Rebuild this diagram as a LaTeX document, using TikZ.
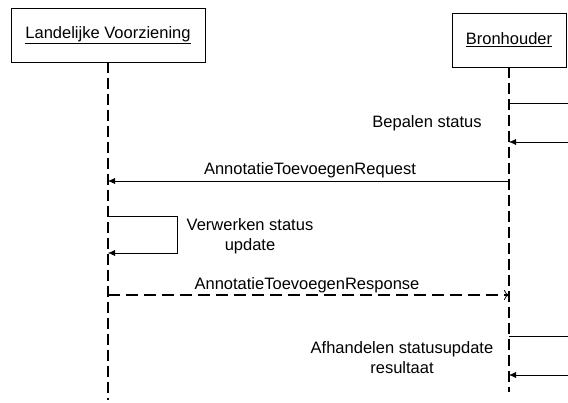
\documentclass[tikz,border=0pt]{standalone}
\usepackage{fontspec}
\setmainfont{Liberation Sans}
\usetikzlibrary{arrows.meta}
\tikzset{
head/.style={rectangle, minimum height=54pt, text centered, draw=black, thin},
life/.style={line width=2pt, dash pattern=on 11pt off 5pt},
call/.style={thin, -{Latex[length=7pt,width=6pt]}},
reply/.style={line width=1.6pt, dash pattern=on 12pt off 6pt, -{To[length=5pt,width=10pt,line width=0.8pt]}},
noarrow/.style={thin},
lbl/.style={align=center}}

\begin{document}
\begin{tikzpicture}[every node/.style={font=\fontsize{16.5}{20}\selectfont}]
\useasboundingbox (0,0) rectangle (568pt,-403pt);
\node (lv) [head, minimum width=194pt] at (108pt,-35pt) {\underline{Landelijke Voorziening}};
\node (bh) [head, minimum width=114pt] at (509pt,-40pt) {\underline{Bronhouder}};
\coordinate (lvend) at (108pt,-400pt);
\coordinate (bhend) at (509pt,-392pt);

% lifelines
\draw [life] (lv) -- (lvend);
\draw [life] (bh) -- (bhend);

% Bepalen status
\coordinate (bs1) at (509pt,-103pt);
\coordinate (bs1r) at (568pt,-103pt);
\coordinate (bs2) at (509pt,-142pt);
\coordinate (bs2r) at (568pt,-142pt);
\draw [noarrow] (bs1) -- (bs1r);
\draw [call] (bs2r) -- (bs2);
\node (bslbl) [lbl] at (427pt,-123pt) {Bepalen status};

% request
\coordinate (rq1) at (509pt,-181pt);
\coordinate (rq2) at (108pt,-181pt);
\draw [call] (rq1) -- (rq2);
\node (rqlbl) [lbl] at (310pt,-170pt) {AnnotatieToevoegenRequest};

% Verwerken status update
\coordinate (vs1) at (108pt,-216pt);
\coordinate (vs2) at (177pt,-253pt);
\coordinate (vs3) at (108pt,-253pt);
\draw [call] (vs1) -| (vs2) -- (vs3);
\node (vslbl) [lbl] at (250pt,-236pt) {Verwerken status\\update};

% response
\coordinate (rs1) at (108pt,-295pt);
\coordinate (rs2) at (509pt,-295pt);
\draw [reply] (rs1) -- (rs2);
\node (rslbl) [lbl] at (307pt,-285pt) {AnnotatieToevoegenResponse};

% Afhandelen statusupdate resultaat
\coordinate (as1) at (509pt,-336pt);
\coordinate (as1r) at (568pt,-336pt);
\coordinate (as2) at (509pt,-375pt);
\coordinate (as2r) at (568pt,-375pt);
\draw [noarrow] (as1) -- (as1r);
\draw [call] (as2r) -- (as2);
\node (aslbl) [lbl] at (402pt,-358pt) {Afhandelen statusupdate\\resultaat};
\end{tikzpicture}
\end{document}
